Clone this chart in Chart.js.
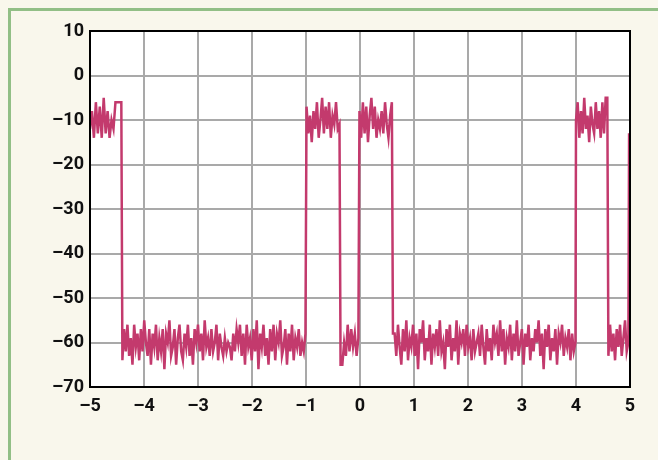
<!DOCTYPE html>
<html><head><meta charset="utf-8">
<script src="https://cdn.jsdelivr.net/npm/chart.js@4/dist/chart.umd.min.js"></script>
<style>
html,body{margin:0;padding:0;background:#f9f7ec;}
#wrap{position:relative;width:658px;height:460px;overflow:hidden;background:#f9f7ec;}
#frame{position:absolute;left:8px;top:8px;width:720px;height:520px;border-top:3px solid #92bf86;border-left:3px solid #92bf86;box-sizing:border-box;}
canvas{position:absolute;left:0;top:0;}
</style></head><body>
<div id="wrap"><div id="frame"></div><canvas id="c" width="658" height="460"></canvas></div>
<script>
// Tick values and labels
const xTicks = [-5,-4,-3,-2,-1,0,1,2,3,4,5];
const xTickLabels = ['–5','–4','–3','–2','–1','0','1','2','3','4','5'];
const yTicks = [10,0,-10,-20,-30,-40,-50,-60,-70];
const yTickLabels = ['10','0','–10','–20','–30','–40','–50','–60','–70'];

// Segment boundaries (x start, x end)
const segStart = [-5.0, -4.40, -0.99, -0.36, -0.01, 0.61, 4.00, 4.60, 4.983];
const segEnd   = [-4.42, -1.01, -0.38, -0.03, 0.59, 3.99, 4.58, 4.97, 4.983];

// Signal values per segment
const highA = [-12,-8,-14,-6,-13,-7,-14,-5,-13,-8,-14,-10,-12,-6,-6,-6,-6];
const lowB = [-64,-57,-62,-56,-63,-59,-65,-56,-61,-58,-64,-57,-62,-55,-60,-63,-57,-65,-58,-61,-56,-64,-59,-62,-57,-66,-58,-60,-55,-63,-61,-57,-65,-59,-56,-62,-64,-58,-61,-56,-63,-59,-65,-57,-60,-56,-62,-58,-64,-55,-61,-59,-63,-57,-62,-60,-56,-64,-58,-61,-63,-59,-62,-60,-61,-64,-58,-62,-57,-60,-56,-63,-58,-65,-56,-61,-59,-64,-57,-62,-55,-66,-58,-61,-56,-63,-59,-65,-57,-62,-56,-64,-58,-60,-55,-63,-61,-57,-65,-58,-62,-56,-64,-59,-61,-57,-63,-60,-62,-58];
const highC = [-7,-13,-9,-15,-8,-12,-6,-14,-10,-5,-13,-7,-12,-6,-14,-9,-11,-6,-12,-11];
const lowD = [-65,-65,-60,-63,-56,-62,-57,-61,-58,-63,-59];
const highE = [-8,-14,-6,-13,-7,-15,-9,-5,-12,-7,-14,-10,-12,-8,-13,-6,-11,-14,-9,-6];
const lowF = [-58,-58,-63,-56,-61,-65,-57,-62,-55,-64,-59,-61,-56,-63,-58,-66,-57,-60,-55,-64,-59,-62,-56,-65,-58,-61,-57,-63,-55,-62,-60,-66,-57,-61,-56,-64,-59,-62,-55,-65,-58,-60,-57,-63,-56,-61,-59,-64,-57,-62,-60,-58,-63,-56,-61,-65,-57,-62,-59,-64,-56,-60,-58,-63,-55,-62,-57,-65,-59,-61,-56,-64,-58,-62,-55,-63,-60,-57,-65,-58,-61,-56,-64,-59,-62,-57,-60,-55,-63,-58,-66,-57,-61,-56,-64,-59,-62,-57,-65,-58,-60,-56,-63,-59,-61,-57,-64,-58,-62,-60];
const highG = [-10,-6,-14,-8,-13,-5,-12,-9,-15,-7,-11,-13,-6,-12,-8,-14,-6,-13,-5,-5];
const lowH = [-63,-56,-62,-58,-64,-57,-61,-56,-63,-59,-55,-62,-60];
const tailI = [-13];

const segValues = [highA, lowB, highC, lowD, highE, lowF, highG, lowH, tailI];

const points = [];
segValues.forEach((vals, k) => {
  const x0 = segStart[k], x1 = segEnd[k], n = vals.length;
  vals.forEach((v, j) => {
    points.push({ x: n > 1 ? x0 + (x1 - x0) * j / (n - 1) : x0, y: v });
  });
});

const tickFont = { family: "Roboto, 'Liberation Sans', sans-serif", size: 18, weight: 'bold' };

const framePlugin = {
  id: 'frame',
  beforeDraw(chart) {
    const a = chart.chartArea, ctx = chart.ctx;
    ctx.save();
    ctx.fillStyle = '#ffffff';
    ctx.fillRect(a.left, a.top, a.right - a.left, a.bottom - a.top);
    ctx.restore();
  },
  afterDraw(chart) {
    const a = chart.chartArea, ctx = chart.ctx;
    ctx.save();
    ctx.strokeStyle = '#000';
    ctx.lineWidth = 2;
    ctx.strokeRect(a.left, a.top, a.right - a.left, a.bottom - a.top);
    ctx.restore();
  }
};

new Chart(document.getElementById('c'), {
  type: 'line',
  data: {
    datasets: [{
      data: points,
      borderColor: '#c33a6d',
      borderWidth: 2.5,
      pointRadius: 0,
      tension: 0,
      fill: false
    }]
  },
  options: {
    responsive: false,
    animation: false,
    devicePixelRatio: 1,
    layout: { padding: { left: 0, top: 31, right: 28, bottom: 0 } },
    plugins: { legend: { display: false }, tooltip: { enabled: false } },
    scales: {
      x: {
        type: 'linear', min: -5, max: 5,
        afterFit: s => { s.height = 73; },
        afterBuildTicks: s => { s.ticks = xTicks.map(v => ({ value: v })); },
        grid: { color: '#a9a9a9', lineWidth: 2, drawTicks: false },
        border: { color: '#000', width: 2 },
        ticks: {
          padding: 9, color: '#111', font: tickFont, maxRotation: 0, autoSkip: false,
          callback: v => { const i = xTicks.indexOf(v); return i >= 0 ? xTickLabels[i] : ''; }
        }
      },
      y: {
        min: -70, max: 10,
        afterFit: s => { s.width = 90; },
        afterBuildTicks: s => { s.ticks = yTicks.map(v => ({ value: v })); },
        grid: { color: '#a9a9a9', lineWidth: 2, drawTicks: false },
        border: { color: '#000', width: 2 },
        ticks: {
          padding: 6, color: '#111', font: tickFont, autoSkip: false,
          callback: v => { const i = yTicks.indexOf(v); return i >= 0 ? yTickLabels[i] : ''; }
        }
      }
    }
  },
  plugins: [framePlugin]
});
</script>
</body></html>
